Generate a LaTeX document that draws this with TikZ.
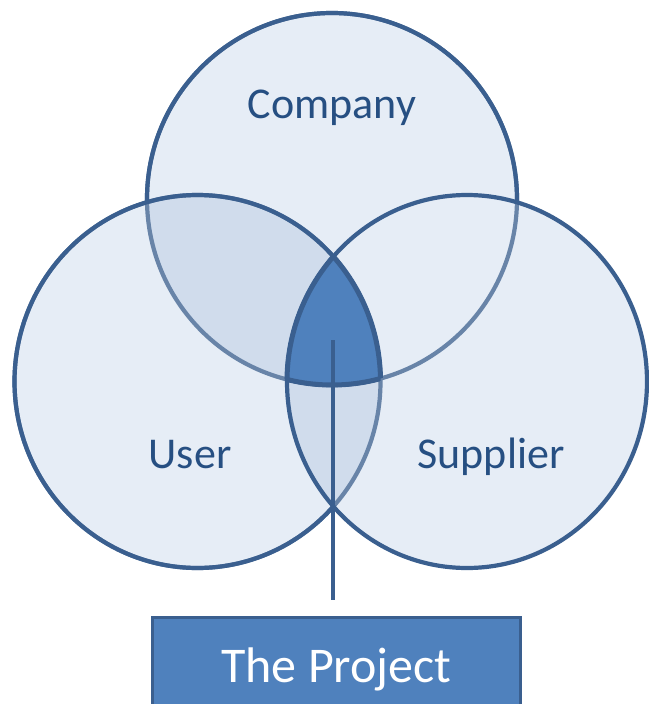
\documentclass[tikz,border=0pt]{standalone}
\usepackage{fontspec}
\setmainfont{Carlito}
\usetikzlibrary{calc,positioning}
\definecolor{ringblue}{HTML}{3A5F8F}
\definecolor{faintblue}{HTML}{6884A8}
\definecolor{coreblue}{HTML}{4F81BD}
\definecolor{paleblue}{HTML}{E6EDF6}
\definecolor{midblue}{HTML}{D0DCEC}
\definecolor{labelblue}{HTML}{264F82}
\newcommand{\compring}{(Comp) ellipse [x radius=185pt, y radius=186pt]}
\newcommand{\userring}{(User) ellipse [x radius=183pt, y radius=186.5pt]}
\newcommand{\suppring}{(Supp) ellipse [x radius=180pt, y radius=186.5pt]}

\begin{document}
\begin{tikzpicture}[x=1pt,y=-1pt,
    ring/.style={draw=ringblue, line width=4.2pt},
    faintring/.style={draw=faintblue, line width=4.2pt},
    coreedge/.style={draw=ringblue, line width=5pt},
    tag/.style={text=labelblue, font=\fontsize{44}{50}\selectfont, anchor=base},
    projbox/.style={draw=ringblue, line width=3pt, fill=coreblue, text=white,
        minimum width=368pt, minimum height=104pt, inner sep=0pt,
        font=\fontsize{50}{56}\selectfont},
    link/.style={draw=ringblue, line width=4pt, shorten >=16pt}]
            %三個圓的交集就是專案
            \useasboundingbox (0,0) rectangle (648,704);
            \coordinate (Comp) at (332,199);
            \coordinate (User) at (197.5,381.5);
            \coordinate (Supp) at (467,381.5);

            \fill[paleblue] \compring \userring \suppring;
            \begin{scope}
            \clip \userring;
            \fill[midblue] \compring \suppring;
            \end{scope}

            \draw[faintring] \compring;
            \draw[faintring] \userring;
            \begin{scope}[even odd rule]
            \clip (-10,-10) rectangle (660,720) \userring \suppring;
            \draw[ring] \compring;
            \end{scope}
            \begin{scope}[even odd rule]
            \clip (-10,-10) rectangle (660,720) \suppring;
            \draw[ring] \userring;
            \end{scope}
            \draw[ring] \suppring;

            \begin{scope}
            \clip \compring;
            \clip \userring;
            \fill[coreblue] \suppring;
            \end{scope}
            \begin{scope}
            \clip \userring;
            \clip \suppring;
            \draw[coreedge] \compring;
            \end{scope}
            \begin{scope}
            \clip \compring;
            \clip \suppring;
            \draw[coreedge] \userring;
            \end{scope}
            \begin{scope}
            \clip \compring;
            \clip \userring;
            \draw[coreedge] \suppring;
            \end{scope}

            \node[tag] (CompLabel) at (332,118) {Company};
            \node[tag] (UserLabel) at (190,468) {User};
            \node[tag] (SuppLabel) at (491,468) {Supplier};

            \node[projbox, anchor=north] (Project) at (336.5,616) {The Project};
            \coordinate (Tip) at (333,340);
            \draw[link] (Tip) -- (Tip |- Project.north);
\end{tikzpicture}
\end{document}
